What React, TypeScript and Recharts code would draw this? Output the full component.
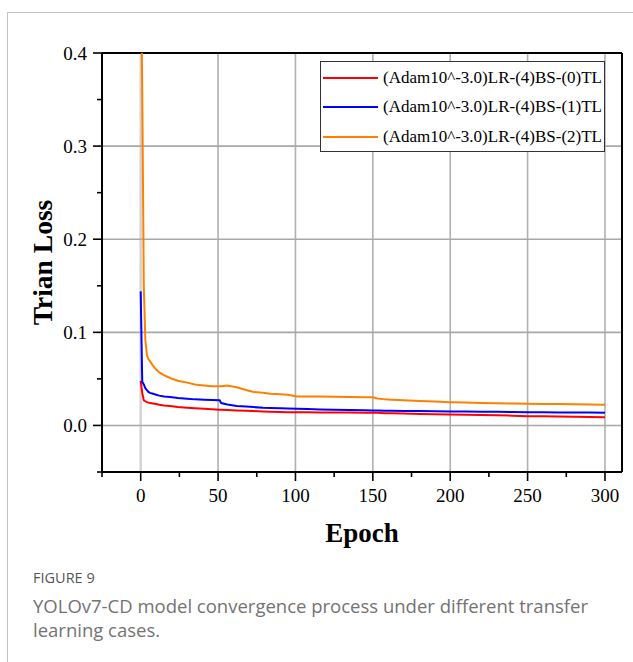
import React from 'react';
import { LineChart, Line, XAxis, YAxis, ReferenceLine, Legend } from 'recharts';

const epochs = [0, 1, 2, 3, 4, 5, 6, 8, 10, 12, 15, 19, 24, 30, 35, 41, 46, 51, 52, 56, 62, 68, 73, 79, 84, 90, 95, 101, 108, 116, 125, 135, 145, 150, 153, 158, 162, 170, 180, 190, 200, 210, 220, 230, 240, 250, 260, 270, 280, 290, 300];

const lossTL0 = [0.048, 0.035, 0.027, 0.026, 0.025, 0.0245, 0.024, 0.0235, 0.023, 0.0222, 0.0215, 0.0208, 0.0198, 0.019, 0.0185, 0.018, 0.0175, 0.0169, 0.0168, 0.0165, 0.016, 0.0157, 0.0154, 0.015, 0.0148, 0.0145, 0.0143, 0.0143, 0.0141, 0.014, 0.0139, 0.0138, 0.0137, 0.0137, 0.0135, 0.0132, 0.013, 0.0128, 0.0124, 0.0121, 0.0118, 0.0115, 0.0112, 0.011, 0.0105, 0.01, 0.0098, 0.0096, 0.0093, 0.0091, 0.0089];

const lossTL1 = [0.144, 0.047, 0.044, 0.04, 0.038, 0.036, 0.035, 0.034, 0.033, 0.032, 0.031, 0.0305, 0.0295, 0.0287, 0.028, 0.0277, 0.0273, 0.027, 0.024, 0.0225, 0.021, 0.0203, 0.0197, 0.019, 0.0187, 0.0185, 0.0183, 0.018, 0.0176, 0.0172, 0.0168, 0.0165, 0.0162, 0.0161, 0.016, 0.0159, 0.0158, 0.0156, 0.0154, 0.0152, 0.015, 0.0149, 0.0147, 0.0146, 0.0144, 0.0143, 0.0142, 0.014, 0.0139, 0.0138, 0.0137];

const lossTL2 = [0.52, 0.36, 0.15, 0.092, 0.076, 0.071, 0.069, 0.064, 0.06, 0.057, 0.054, 0.051, 0.048, 0.046, 0.044, 0.043, 0.042, 0.042, 0.042, 0.043, 0.041, 0.038, 0.036, 0.035, 0.034, 0.0335, 0.033, 0.031, 0.031, 0.031, 0.0308, 0.0306, 0.0304, 0.0302, 0.029, 0.028, 0.0277, 0.027, 0.0262, 0.0256, 0.025, 0.0246, 0.0242, 0.0239, 0.0236, 0.0233, 0.0231, 0.0229, 0.0227, 0.0225, 0.0223];

const seriesNames = [
  '(Adam10^-3.0)LR-(4)BS-(0)TL',
  '(Adam10^-3.0)LR-(4)BS-(1)TL',
  '(Adam10^-3.0)LR-(4)BS-(2)TL',
];
const seriesColors = ['#ff0000', '#0000ff', '#ff8000'];
const seriesKeys = ['tl0', 'tl1', 'tl2'];

const xMajorTicks = [0, 50, 100, 150, 200, 250, 300];
const xMinorTicks = [-25, 25, 75, 125, 175, 225, 275];
const yMajorTicks = [0.0, 0.1, 0.2, 0.3, 0.4];
const yMinorTicks = [-0.05, 0.05, 0.15, 0.25, 0.35];
const yTickLabels = ['0.0', '0.1', '0.2', '0.3', '0.4'];
const xGridValues = [50, 100, 150, 200, 250, 300];
const yGridValues = [0.0, 0.1, 0.2, 0.3];

const xDomain: [number, number] = [-25, 311];
const yDomain: [number, number] = [-0.05, 0.4];

const data = epochs.map((e, i) => ({
  epoch: e,
  tl0: lossTL0[i],
  tl1: lossTL1[i],
  tl2: lossTL2[i],
}));

const serif = '"Liberation Serif", "Times New Roman", serif';

const isMajorX = (v: number) => xMajorTicks.some((m) => Math.abs(m - v) < 1e-9);
const majorYIndex = (v: number) => yMajorTicks.findIndex((m) => Math.abs(m - v) < 1e-9);

const XTick = (props: any) => {
  const { x, y, payload } = props;
  const major = isMajorX(payload.value);
  return (
    <g>
      <line x1={x} x2={x} y1={y} y2={y + (major ? 9 : 5)} stroke="#000" strokeWidth={1.6} />
      {major && (
        <text x={x} y={y + 30} textAnchor="middle" fontFamily={serif} fontSize={19} fill="#000">
          {String(payload.value)}
        </text>
      )}
    </g>
  );
};

const YTick = (props: any) => {
  const { x, y, payload } = props;
  const idx = majorYIndex(payload.value);
  const major = idx >= 0;
  return (
    <g>
      <line x1={x - (major ? 9 : 5)} x2={x} y1={y} y2={y} stroke="#000" strokeWidth={1.6} />
      {major && (
        <text x={x - 15} y={y + 6.5} textAnchor="end" fontFamily={serif} fontSize={19} fill="#000">
          {yTickLabels[idx]}
        </text>
      )}
    </g>
  );
};

const LegendBox = (props: any) => {
  const payload = (props && props.payload) || [];
  const items = payload.length
    ? payload.map((p: any) => ({ name: p.value, color: p.color }))
    : seriesNames.map((n, i) => ({ name: n, color: seriesColors[i] }));
  return (
    <div
      style={{
        width: 285,
        height: 91,
        boxSizing: 'border-box',
        border: '1px solid #333',
        background: '#fff',
        position: 'relative',
      }}
    >
      {items.map((it: any, i: number) => (
        <div
          key={i}
          style={{
            position: 'absolute',
            left: 0,
            top: 15.7 + i * 29.7 - 12,
            height: 24,
            display: 'flex',
            alignItems: 'center',
          }}
        >
          <div style={{ marginLeft: 2, width: 55, height: 2, background: it.color }} />
          <div
            style={{
              marginLeft: 5,
              fontFamily: serif,
              fontSize: 17,
              color: '#000',
              whiteSpace: 'nowrap',
              lineHeight: '24px',
            }}
          >
            {it.name}
          </div>
        </div>
      ))}
    </div>
  );
};

const YLabel = (props: any) => {
  const vb = props.viewBox || { x: 1, y: 53, width: 101, height: 419 };
  const cx = vb.x + 50.7;
  const cy = vb.y + vb.height / 2;
  return (
    <text
      x={cx}
      y={cy}
      transform={`rotate(-90, ${cx}, ${cy})`}
      textAnchor="middle"
      fontFamily={serif}
      fontWeight="bold"
      fontSize={27.5}
      fill="#000"
    >
      Trian Loss
    </text>
  );
};

const XLabel = (props: any) => {
  const vb = props.viewBox || { x: 102, y: 472, width: 520, height: 80 };
  return (
    <text
      x={vb.x + vb.width / 2}
      y={vb.y + 69.7}
      textAnchor="middle"
      fontFamily={serif}
      fontWeight="bold"
      fontSize={27}
      fill="#000"
    >
      Epoch
    </text>
  );
};

export default function App() {
  return (
    <div style={{ position: 'absolute', left: 0, top: 0, width: 633, height: 662, background: '#fff', overflow: 'hidden' }}>
      <div
        style={{
          position: 'absolute',
          left: 7,
          top: 12,
          width: 700,
          height: 700,
          borderLeft: '1px solid #c4c4c4',
          borderTop: '1px solid #c4c4c4',
        }}
      />
      <div style={{ position: 'absolute', left: 0, top: 0 }}>
        <LineChart width={633} height={560} data={data} margin={{ top: 53, right: 11, left: 1, bottom: 8 }}>
          <ReferenceLine x={0} stroke="#d2d2d2" strokeWidth={2.4} />
          {xGridValues.map((v) => (
            <ReferenceLine key={`gridx-${v}`} x={v} stroke="#b0b0b0" strokeWidth={1.6} />
          ))}
          {yGridValues.map((v) => (
            <ReferenceLine key={`gridy-${v}`} y={v} stroke="#a8a8a8" strokeWidth={1.6} />
          ))}
          <XAxis
            type="number"
            dataKey="epoch"
            domain={xDomain}
            allowDataOverflow
            ticks={[...xMinorTicks, ...xMajorTicks].sort((a, b) => a - b)}
            interval={0}
            tickSize={0}
            tickMargin={0}
            tickLine={false}
            tick={<XTick />}
            axisLine={{ stroke: '#000', strokeWidth: 2 }}
            height={80}
            label={XLabel}
          />
          <YAxis
            type="number"
            domain={yDomain}
            allowDataOverflow
            ticks={[...yMinorTicks, ...yMajorTicks].sort((a, b) => a - b)}
            interval={0}
            tickSize={0}
            tickMargin={0}
            tickLine={false}
            tick={<YTick />}
            axisLine={{ stroke: '#000', strokeWidth: 2 }}
            width={101}
            label={YLabel}
          />
          <ReferenceLine y={yDomain[1]} stroke="#000" strokeWidth={2} />
          <ReferenceLine x={xDomain[1]} stroke="#000" strokeWidth={2} />
          {seriesKeys.map((k, i) => (
            <Line
              key={k}
              type="linear"
              dataKey={k}
              name={seriesNames[i]}
              stroke={seriesColors[i]}
              strokeWidth={2}
              dot={false}
              activeDot={false}
              isAnimationActive={false}
            />
          ))}
          <Legend
            verticalAlign="middle"
            align="center"
            layout="vertical"
            content={LegendBox}
            wrapperStyle={{ left: 320, top: 61, width: 285, height: 91, right: 'auto', bottom: 'auto', margin: 0 }}
          />
        </LineChart>
      </div>
      <div
        style={{
          position: 'absolute',
          left: 33,
          top: 570,
          fontFamily: '"Open Sans", "Noto Sans", sans-serif',
          fontSize: 14.5,
          color: '#555',
          lineHeight: '16px',
        }}
      >
        FIGURE 9
      </div>
      <div
        style={{
          position: 'absolute',
          left: 33,
          top: 594,
          width: 595,
          fontFamily: '"Open Sans", "Noto Sans", sans-serif',
          fontSize: 18.5,
          color: '#737373',
          lineHeight: '24px',
          whiteSpace: 'nowrap',
        }}
      >
        YOLOv7-CD model convergence process under different transfer
        <br />
        learning cases.
      </div>
    </div>
  );
}
